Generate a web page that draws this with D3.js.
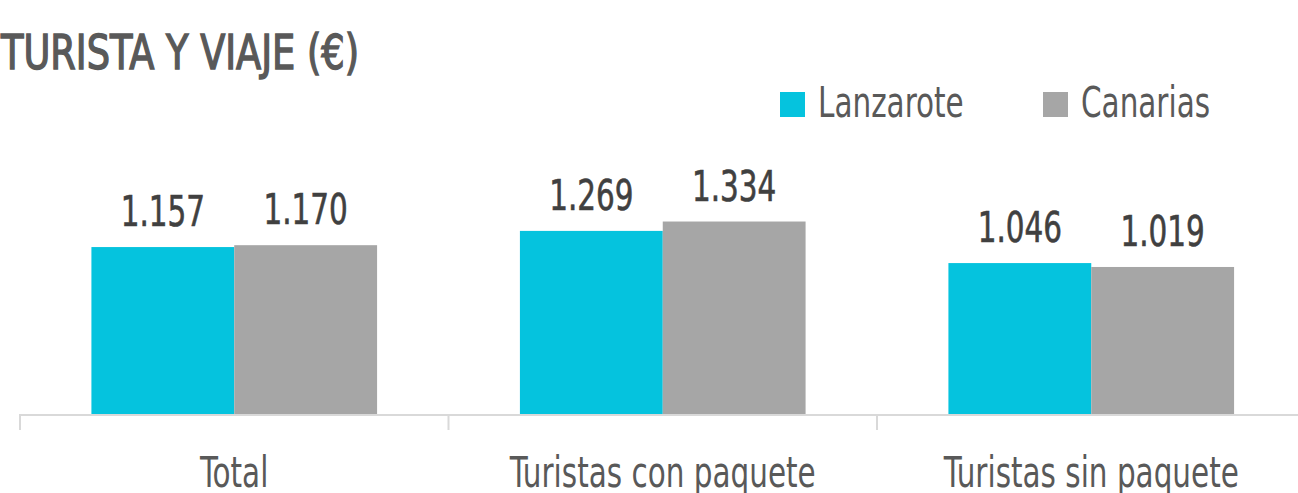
<!DOCTYPE html>
<html>
  <head>
    <meta charset="utf-8">
    <title>Turista y viaje</title>
    <script src="https://d3js.org/d3.v7.min.js"></script>
    <style>
      body { margin: 0; background: #fff; }
      text { font-family: "Liberation Sans Narrow", "DejaVu Sans Condensed", sans-serif; }
    </style>
  </head>
  <body>
    <svg width="1298" height="493"></svg>

    <script>
      // data
      const categories = ["Total", "Turistas con paquete", "Turistas sin paquete"];
      const series = ["Lanzarote", "Canarias"];
      const lanzarote = [1157, 1269, 1046];
      const canarias = [1170, 1334, 1019];
      const valueLabels = [["1.157", "1.170"], ["1.269", "1.334"], ["1.046", "1.019"]];
      const colors = ["#05c3de", "#a6a6a6"];

      const svg = d3.select("svg");
      const baseY = 414;
      const squeeze = 0.78; // the original font is narrower than what we have

      // place a text with a horizontal squeeze
      function at(x, yy) {
        return "translate(" + x + "," + yy + ") scale(" + squeeze + ",1)";
      }

      const x0 = d3.scaleBand()
        .domain(categories)
        .range([20, 1305.5]);

      const x1 = d3.scaleBand()
        .domain(series)
        .range([0, x0.bandwidth()])
        .paddingOuter(0.5);

      const y = d3.scaleLinear()
        .domain([0, 1400])
        .range([baseY, 212]);

      const color = d3.scaleOrdinal().domain(series).range(colors);

      // title
      svg.append("text")
        .attr("x", 1)
        .attr("y", 69)
        .attr("font-size", 48)
        .attr("fill", "#595959")
        .attr("stroke", "#595959")
        .attr("stroke-width", 1.4)
        .attr("textLength", 358)
        .attr("lengthAdjust", "spacingAndGlyphs")
        .text("TURISTA Y VIAJE (€)");

      // legend
      const legendX = [780, 1043];
      const legend = svg.selectAll(".legend")
        .data(series)
        .enter().append("g")
          .attr("class", "legend")
          .attr("transform", (d, i) => "translate(" + legendX[i] + ",92)");
      legend.append("rect")
        .attr("width", 25)
        .attr("height", 25)
        .attr("fill", d => color(d));
      legend.append("text")
        .attr("transform", at(38, 25))
        .attr("font-size", 42)
        .attr("fill", "#595959")
        .text(d => d);

      const rows = categories.map((c, i) => ({
        cat: c,
        vals: [
          { key: "Lanzarote", value: lanzarote[i], label: valueLabels[i][0] },
          { key: "Canarias", value: canarias[i], label: valueLabels[i][1] }
        ]
      }));

      const groups = svg.selectAll(".group")
        .data(rows)
        .enter().append("g")
          .attr("class", "group")
          .attr("transform", d => "translate(" + x0(d.cat) + ",0)");

      groups.selectAll("rect")
        .data(d => d.vals)
        .enter().append("rect")
          .attr("x", d => x1(d.key))
          .attr("y", d => y(d.value))
          .attr("width", x1.bandwidth())
          .attr("height", d => baseY - y(d.value))
          .attr("fill", d => color(d.key));

      groups.selectAll(".val")
        .data(d => d.vals)
        .enter().append("text")
          .attr("class", "val")
          .attr("transform", d => at(x1(d.key) + x1.bandwidth() / 2, y(d.value) - 21))
          .attr("text-anchor", "middle")
          .attr("font-size", 42)
          .attr("fill", "#404040")
          .attr("stroke", "#404040")
          .attr("stroke-width", 0.6)
          .text(d => d.label);

      // axis line and separators
      svg.append("line")
        .attr("x1", x0.range()[0])
        .attr("x2", x0.range()[1])
        .attr("y1", baseY + 1)
        .attr("y2", baseY + 1)
        .attr("stroke", "#d9d9d9")
        .attr("stroke-width", 2);

      svg.selectAll(".tick-sep")
        .data(categories)
        .enter().append("line")
          .attr("class", "tick-sep")
          .attr("x1", d => x0(d))
          .attr("x2", d => x0(d))
          .attr("y1", baseY)
          .attr("y2", baseY + 16)
          .attr("stroke", "#d9d9d9")
          .attr("stroke-width", 2);

      svg.selectAll(".cat")
        .data(categories)
        .enter().append("text")
          .attr("class", "cat")
          .attr("transform", d => at(x0(d) + x0.bandwidth() / 2, 487))
          .attr("text-anchor", "middle")
          .attr("font-size", 42)
          .attr("fill", "#595959")
          .text(d => d);
    </script>
  </body>
</html>
